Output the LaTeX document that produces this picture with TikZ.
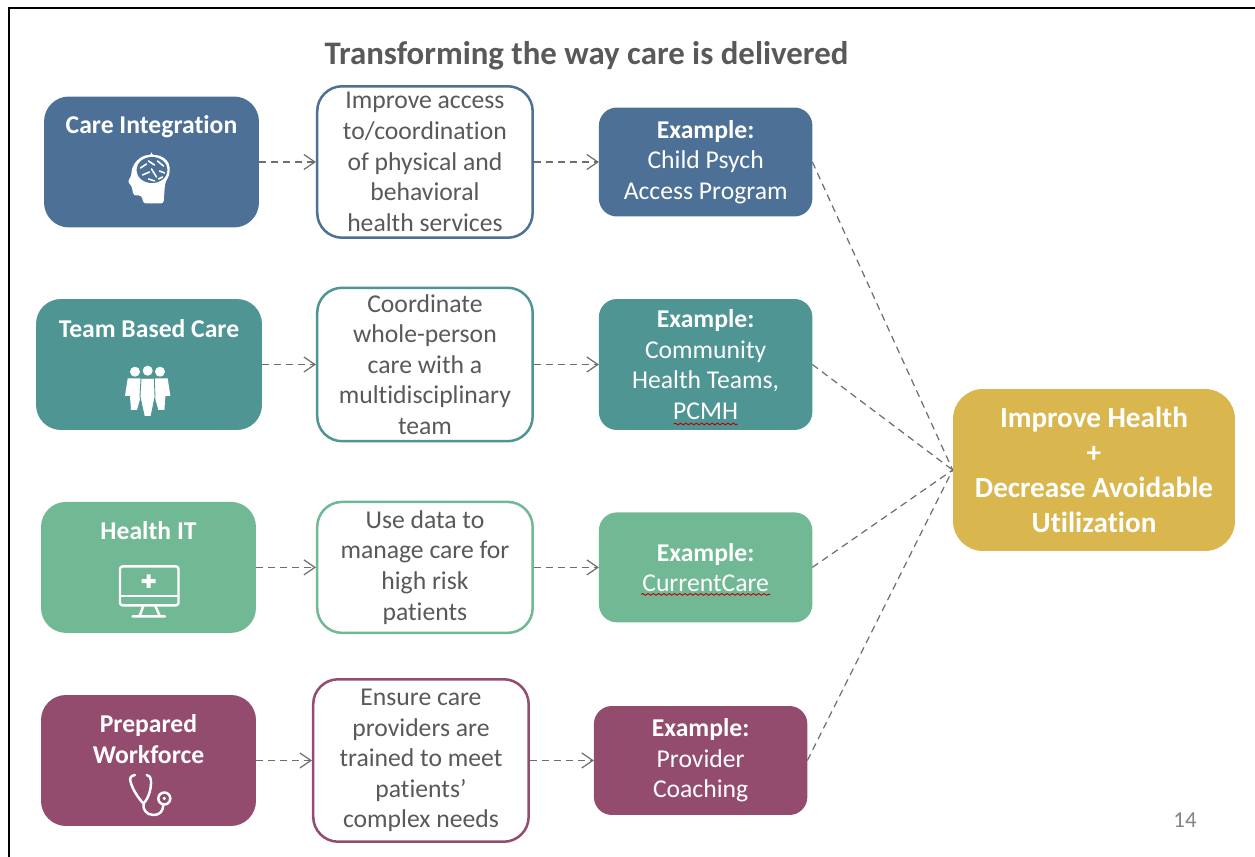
\documentclass[tikz,border=0pt]{standalone}
\usepackage{fontspec}
\setmainfont[Ligatures=NoCommon]{Carlito}
\usetikzlibrary{positioning,arrows.meta,decorations.pathmorphing}
\definecolor{careblue}{HTML}{4D7096}
\definecolor{teamteal}{HTML}{4E9593}
\definecolor{itgreen}{HTML}{71B894}
\definecolor{workplum}{HTML}{944C6E}
\definecolor{goalgold}{HTML}{D9B64E}
\definecolor{textgrey}{HTML}{595959}
\definecolor{linegrey}{HTML}{6E6E6E}
\tikzset{
  headbox/.style={rounded corners=0.5cm,minimum height=2.62cm,inner sep=0pt,outer sep=0pt},
  headlabel/.style={text=white,align=center,font=\fontsize{14.6}{17.4}\selectfont\bfseries,inner sep=0pt},
  aimbox/.style={draw=#1,fill=white,line width=0.05cm,rounded corners=0.5cm,minimum width=4.31cm,
    text=textgrey,align=center,font=\fontsize{14.6}{17.4}\selectfont,inner sep=0pt,
    execute at begin node={\rule{0pt}{15pt}}},
  examplebox/.style={fill=#1,rounded corners=0.36cm,minimum width=4.27cm,text=white,align=center,
    font=\fontsize{14.6}{17.4}\selectfont,inner sep=0pt,outer sep=0pt,
    execute at begin node={\rule{0pt}{16pt}}},
  flow/.style={draw=linegrey,line width=0.7pt,dash pattern=on 4pt off 2.8pt,-{Straight Barb[length=0.22cm,width=0.3cm]}},
  merge/.style={draw=linegrey,line width=0.7pt,dash pattern=on 4pt off 2.8pt},
  spellwave/.style={draw=red!75!black,line width=0.5pt,decorate,decoration={snake,amplitude=0.5pt,segment length=3pt}},
  iconline/.style={draw=white,line width=1.4pt,line cap=round,line join=round}
}
\begin{document}
\begin{tikzpicture}[x=0.02cm,y=-0.02cm]
  \useasboundingbox (0,0) rectangle (1255,857);
  \draw[line width=1.4pt] (9,857) -- (9,8) -- (1255,8);
  \node[text=textgrey,font=\fontsize{18.7}{22}\selectfont\bfseries,inner sep=0pt] (title) at (586.5,56) {Transforming the way care is delivered};

  \node[headbox,fill=careblue,minimum width=4.3cm] (care) at (151.5,162) {};
  \node[headbox,fill=teamteal,minimum width=4.52cm] (team) at (149,364.5) {};
  \node[headbox,fill=itgreen,minimum width=4.3cm] (healthit) at (148.5,567.4) {};
  \node[headbox,fill=workplum,minimum width=4.3cm] (workforce) at (148.5,760.5) {};

  \node[headlabel] (carelabel) at (151.5,127) {Care Integration};
  \node[headlabel] (teamlabel) at (149,329) {Team Based Care};
  \node[headlabel] (itlabel) at (148.5,531) {Health IT};
  \node[headlabel] (worklabel) at (148.5,739) {Prepared\\Workforce};

  \node[aimbox=careblue,minimum height=3.03cm,right=1.14cm of care] (careaim) {Improve access\\to/coordination\\of physical and\\behavioral\\health services};
  \node[aimbox=teamteal,minimum height=3.07cm,right=1.08cm of team] (teamaim) {Coordinate\\whole-person\\care with a\\multidisciplinary\\team};
  \node[aimbox=itgreen,minimum height=2.62cm,right=1.2cm of healthit] (itaim) {Use data to\\manage care for\\high risk\\patients};
  \node[aimbox=workplum,minimum height=3.25cm,right=1.12cm of workforce] (workaim) {Ensure care\\providers are\\trained to meet\\patients’\\complex needs};

  \node[examplebox=careblue,minimum height=2.18cm,right=1.3cm of careaim] (careex) {\textbf{Example:}\\Child Psych\\Access Program};
  \node[examplebox=teamteal,minimum height=2.62cm,right=1.3cm of teamaim] (teamex) {\textbf{Example:}\\Community\\Health Teams,\\PCMH};
  \node[examplebox=itgreen,minimum height=2.2cm,right=1.3cm of itaim] (itex) {\textbf{Example:}\\CurrentCare};
  \node[examplebox=workplum,minimum height=2.18cm,right=1.28cm of workaim] (workex) {\textbf{Example:}\\Provider\\Coaching};

  \node[fill=goalgold,rounded corners=0.6cm,minimum width=5.64cm,minimum height=3.24cm,text=white,align=center,
    font=\fontsize{16.6}{19.9}\selectfont\bfseries,inner sep=0pt,execute at begin node={\rule{0pt}{18.5pt}}] (goal) at (1094,470) {Improve Health\\+\\Decrease Avoidable\\Utilization};
  \node[text=linegrey!85,font=\fontsize{13}{15}\selectfont,inner sep=0pt] (pagenum) at (1185,820) {14};

  \draw[flow] (care) -- (careaim);
  \draw[flow] (careaim) -- (careex);
  \draw[flow] (team) -- (teamaim);
  \draw[flow] (teamaim) -- (teamex);
  \draw[flow] (healthit) -- (itaim);
  \draw[flow] (itaim) -- (itex);
  \draw[flow] (workforce) -- (workaim);
  \draw[flow] (workaim) -- (workex);
  \draw[merge] (careex.east) -- (goal.west);
  \draw[merge] (teamex.east) -- (goal.west);
  \draw[merge] (itex.east) -- (goal.west);
  \draw[merge] (workex.east) -- (goal.west);

  \draw[spellwave] ([xshift=-0.64cm,yshift=0.12cm]teamex.south) -- ([xshift=0.64cm,yshift=0.12cm]teamex.south);
  \draw[spellwave] ([xshift=-1.29cm,yshift=-0.54cm]itex.center) -- ([xshift=1.29cm,yshift=-0.54cm]itex.center);

  \begin{scope}[shift={(care.center)}]
    \fill[white,rounded corners=1.5pt] (0,-7) .. controls (12,-7) and (18,0) .. (18,7.5) .. controls (18,14) and (15,18) .. (13.5,22)
      -- (12,41.5) -- (-8,41.5) -- (-10,33.5) -- (-18,33.5) -- (-20,23.5) -- (-24,20) -- (-20,13.5)
      .. controls (-20,3) and (-12,-7) .. (0,-7) -- cycle;
    \fill[careblue] (0.5,8) ellipse (15.5 and 13);
    \draw[white,line width=0.9pt,line cap=round] (-11,6) -- (-5,2) (-9,13) -- (-2,10) (-3,-1) -- (3,3)
      (0,7) -- (5,15) (6,-1) -- (12,4) (8,9) -- (13,11) (-3,17) -- (3,19) (7,17) -- (11,15);
  \end{scope}

  \begin{scope}[shift={(team.center)}]
    \fill[white] (-14,7.2) circle (5) (-1.3,6.2) circle (5) (11,7.2) circle (5);
    \fill[white] (-21.3,13.8) -- (-8,13.8) -- (-8,31) -- (-12,45.5) -- (-18,45.5) -- (-19,31.5) -- (-24,31.5) -- cycle;
    \fill[white] (18.7,13.8) -- (5.4,13.8) -- (5.4,31) -- (9.4,45.5) -- (15.4,45.5) -- (16.4,31.5) -- (21.4,31.5) -- cycle;
    \filldraw[fill=white,draw=teamteal,line width=0.5pt] (-8,13.8) -- (5.3,13.8) -- (6,32) -- (2,52) -- (-4.7,52) -- (-9,32) -- cycle;
  \end{scope}

  \begin{scope}[shift={(healthit.center)}]
    \draw[iconline,rounded corners=1.5pt] (-28.5,-1) rectangle (30,38);
    \draw[iconline] (-28.5,28.7) -- (30,28.7);
    \draw[iconline] (-5,38) -- (-9,49) (6.5,38) -- (11.5,49) (-16,49) -- (16.5,49);
    \fill[white] (-2,7) rectangle (2,20.5) (-7,11.7) rectangle (7,15.8);
  \end{scope}

  \begin{scope}[shift={(workforce.center)}]
    \draw[iconline] (-13.5,14.5) .. controls (-18,15) and (-19,18) .. (-18,21) .. controls (-16,29) and (-10,38) .. (-5,43)
      .. controls (0,38) and (3,28) .. (2.5,20) .. controls (2.5,17) and (1,15) .. (-1.8,14.5);
    \draw[iconline] (-5,43) .. controls (-6,49) and (-2,54.5) .. (5,54.5) .. controls (11,54.5) and (14.8,51) .. (14.8,44);
    \draw[iconline] (15.8,38) circle (6);
    \fill[white] (15.8,38) circle (1.8);
  \end{scope}
\end{tikzpicture}
\end{document}
